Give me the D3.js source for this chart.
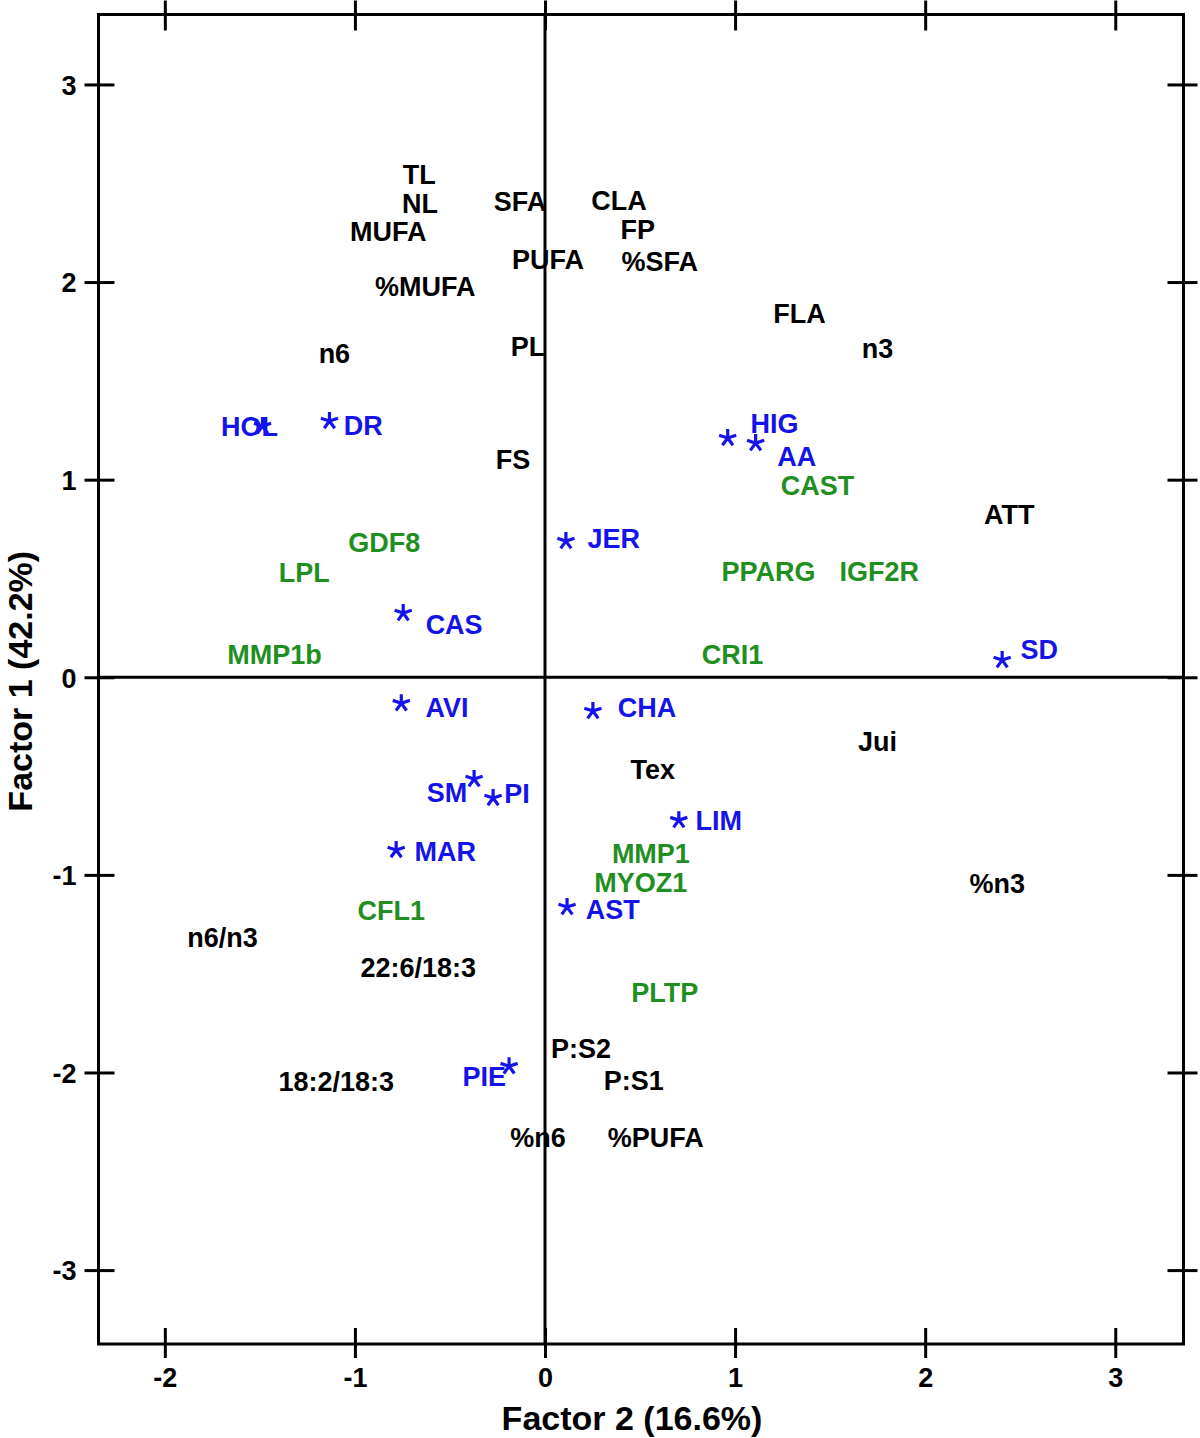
<!DOCTYPE html>
<html>
<head>
<meta charset="utf-8">
<script src="https://cdn.jsdelivr.net/npm/d3@7"></script>
<style>
  html, body { margin: 0; padding: 0; background: #ffffff; }
  svg { display: block; font-family: "Liberation Sans", Arial, Helvetica, sans-serif; font-weight: bold; }
</style>
</head>
<body>
<svg id="chart" width="1200" height="1438"></svg>
<script>
// ---------------- DATA ----------------
const xTicks = [-2, -1, 0, 1, 2, 3];
const yTicks = [-3, -2, -1, 0, 1, 2, 3];
const xTitle = "Factor 2 (16.6%)";
const yTitle = "Factor 1 (42.2%)";

// Trait variables (black labels)
const varNames = ["TL", "NL", "MUFA", "%MUFA", "SFA", "CLA", "FP", "PUFA", "%SFA", "FLA", "n3", "n6", "PL", "FS",
                  "ATT", "Jui", "Tex", "%n3", "n6/n3", "22:6/18:3", "18:2/18:3", "P:S2", "P:S1", "%n6", "%PUFA"];
const varX = [-0.662, -0.657, -0.825, -0.630, -0.131, 0.389, 0.488, 0.016, 0.604, 1.339, 1.749, -1.108, -0.089, -0.168,
              2.442, 1.749, 0.567, 2.379, -1.696, -0.667, -1.098, 0.189, 0.467, -0.037, 0.583];
const varY = [2.547, 2.400, 2.258, 1.980, 2.410, 2.415, 2.268, 2.117, 2.107, 1.843, 1.666, 1.641, 1.676, 1.104,
              0.826, -0.323, -0.465, -1.041, -1.315, -1.467, -2.044, -1.877, -2.039, -2.327, -2.327];

// Genes (green labels)
const geneNames = ["CAST", "GDF8", "LPL", "PPARG", "IGF2R", "MMP1b", "CRI1", "MMP1", "MYOZ1", "CFL1", "PLTP"];
const geneX = [1.434, -0.846, -1.266, 1.176, 1.759, -1.423, 0.987, 0.557, 0.504, -0.809, 0.630];
const geneY = [0.973, 0.684, 0.532, 0.537, 0.537, 0.117, 0.117, -0.892, -1.036, -1.178, -1.593];

// Breeds (blue asterisks + labels)
const breedNames = ["HOL", "DR", "JER", "CAS", "HIG", "AA", "SD", "AVI", "CHA", "SM", "PI", "LIM", "MAR", "AST", "PIE"];
const breedX = [-1.486, -1.134, 0.110, -0.746, 0.961, 1.108, 2.405, -0.756, 0.252, -0.373, -0.273, 0.704, -0.783, 0.116, -0.189];
const breedY = [1.271, 1.297, 0.689, 0.325, 1.211, 1.185, 0.087, -0.131, -0.171, -0.515, -0.611, -0.723, -0.874, -1.163, -1.968];
const breedLabelX = [-1.555, -0.956, 0.362, -0.478, 1.208, 1.324, 2.600, -0.515, 0.536, -0.515, -0.147, 0.914, -0.525, 0.357, -0.320];
const breedLabelY = [1.271, 1.276, 0.704, 0.269, 1.286, 1.119, 0.143, -0.151, -0.151, -0.581, -0.586, -0.723, -0.880, -1.173, -2.018];

// ---------------- LAYOUT ----------------
const svg = d3.select("#chart");
const box = { left: 98.5, right: 1183.5, top: 14.5, bottom: 1344 };
const x = d3.scaleLinear().domain([-2.349, 3.359]).range([box.left, box.right]);
const y = d3.scaleLinear().domain([-3.374, 3.354]).range([box.bottom, box.top]);

const BLACK = "#000000", BLUE = "#1414ea", GREEN = "#1f8f1f";
const FS = 27;
const TICK_OUT = 14, TICK_IN = 16;
const fmt = d => String(d);

// zero lines
svg.append("line").attr("x1", x(0)).attr("x2", x(0)).attr("y1", box.top).attr("y2", box.bottom)
  .attr("stroke", BLACK).attr("stroke-width", 3);
svg.append("line").attr("x1", box.left).attr("x2", box.right).attr("y1", y(0)).attr("y2", y(0))
  .attr("stroke", BLACK).attr("stroke-width", 3);

// frame
svg.append("rect").attr("x", box.left).attr("y", box.top)
  .attr("width", box.right - box.left).attr("height", box.bottom - box.top)
  .attr("fill", "none").attr("stroke", BLACK).attr("stroke-width", 3);

function styleAxis(g, orient) {
  g.select(".domain").remove();
  g.selectAll(".tick line").attr("stroke", BLACK).attr("stroke-width", 3);
  if (orient === "bottom") g.selectAll(".tick line").attr("y1", -TICK_IN).attr("y2", TICK_OUT);
  if (orient === "top") g.selectAll(".tick line").attr("y1", TICK_IN).attr("y2", -TICK_OUT);
  if (orient === "left") g.selectAll(".tick line").attr("x1", TICK_IN).attr("x2", -TICK_OUT);
  if (orient === "right") g.selectAll(".tick line").attr("x1", -TICK_IN).attr("x2", TICK_OUT);
  g.selectAll(".tick text").attr("fill", BLACK).attr("font-size", FS).attr("font-weight", "bold")
    .attr("font-family", "'Liberation Sans', Arial, Helvetica, sans-serif");
}

const gB = svg.append("g").attr("transform", `translate(0,${box.bottom})`)
  .call(d3.axisBottom(x).tickValues(xTicks).tickFormat(fmt));
styleAxis(gB, "bottom");
gB.selectAll(".tick text").attr("dy", "0.71em").attr("y", 24);

const gT = svg.append("g").attr("transform", `translate(0,${box.top})`)
  .call(d3.axisTop(x).tickValues(xTicks).tickFormat(""));
styleAxis(gT, "top");

const gL = svg.append("g").attr("transform", `translate(${box.left},0)`)
  .call(d3.axisLeft(y).tickValues(yTicks).tickFormat(fmt));
styleAxis(gL, "left");
gL.selectAll(".tick text").attr("x", -22).attr("dy", "0.36em");

const gR = svg.append("g").attr("transform", `translate(${box.right},0)`)
  .call(d3.axisRight(y).tickValues(yTicks).tickFormat(""));
styleAxis(gR, "right");

// axis titles
svg.append("text").attr("x", 632).attr("y", 1430)
  .attr("text-anchor", "middle").attr("font-size", 34).attr("fill", BLACK).text(xTitle);
svg.append("text").attr("transform", `translate(32,${(box.top + box.bottom) / 2 + 2}) rotate(-90)`)
  .attr("text-anchor", "middle").attr("font-size", 34).attr("fill", BLACK).text(yTitle);

// labels for variables
svg.append("g").selectAll("text").data(varNames).join("text")
  .attr("x", (d, i) => x(varX[i])).attr("y", (d, i) => y(varY[i]))
  .attr("dy", "0.36em").attr("text-anchor", "middle")
  .attr("font-size", FS).attr("fill", BLACK).text(d => d);

// gene labels
svg.append("g").selectAll("text").data(geneNames).join("text")
  .attr("x", (d, i) => x(geneX[i])).attr("y", (d, i) => y(geneY[i]))
  .attr("dy", "0.36em").attr("text-anchor", "middle")
  .attr("font-size", FS).attr("fill", GREEN).text(d => d);

// breed asterisks (5-arm)
const asterisk5 = {
  draw(ctx, size) {
    const r = Math.sqrt(size) / 2;
    for (let k = 0; k < 5; k++) {
      const a = -Math.PI / 2 + k * 2 * Math.PI / 5;
      ctx.moveTo(0, 0);
      ctx.lineTo(r * Math.cos(a), r * Math.sin(a));
    }
  }
};
const sym = d3.symbol().type(asterisk5).size(4 * 9 * 9);
svg.append("g").selectAll("path").data(breedNames).join("path")
  .attr("transform", (d, i) => `translate(${x(breedX[i])},${y(breedY[i])})`)
  .attr("d", sym).attr("fill", "none").attr("stroke", BLUE).attr("stroke-width", 3.2);

// breed labels
svg.append("g").selectAll("text").data(breedNames).join("text")
  .attr("x", (d, i) => x(breedLabelX[i])).attr("y", (d, i) => y(breedLabelY[i]))
  .attr("dy", "0.36em").attr("text-anchor", "middle")
  .attr("font-size", FS).attr("fill", BLUE).text(d => d);
</script>
</body>
</html>
